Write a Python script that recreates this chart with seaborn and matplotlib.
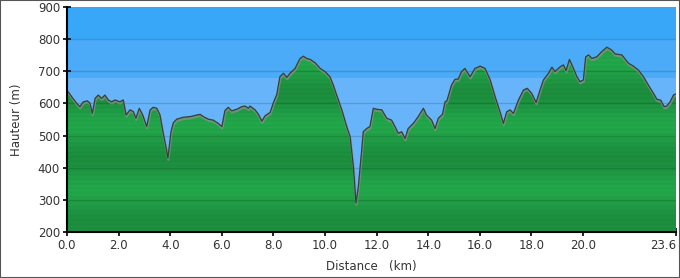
import numpy as np
import pandas as pd
import matplotlib
matplotlib.use("Agg")
import matplotlib.pyplot as plt
import seaborn as sns
from matplotlib import patheffects as pe
from matplotlib.patches import Polygon, Rectangle
from matplotlib.colors import to_rgb

# ---- data ----
distance_km = [0.00, 0.05, 0.18, 0.38, 0.50, 0.63, 0.79, 0.89, 0.98, 1.09, 1.21, 1.34, 1.47, 1.60,
               1.73, 1.86, 2.05, 2.18, 2.29, 2.44, 2.57, 2.67, 2.80, 2.93, 3.09, 3.22, 3.34, 3.48,
               3.60, 3.73, 3.86, 3.91, 4.03, 4.12, 4.25, 4.51, 4.77, 5.03, 5.16, 5.28, 5.48, 5.67,
               5.86, 6.00, 6.12, 6.25, 6.38, 6.58, 6.77, 6.90, 7.03, 7.09, 7.29, 7.42, 7.55, 7.68,
               7.87, 8.00, 8.13, 8.25, 8.39, 8.52, 8.64, 8.84, 9.03, 9.16, 9.29, 9.42, 9.61, 9.81,
               10.00, 10.19, 10.32, 10.45, 10.65, 10.84, 10.97, 11.10, 11.20, 11.29, 11.42, 11.48,
               11.61, 11.74, 11.87, 12.00, 12.20, 12.39, 12.58, 12.71, 12.84, 12.97, 13.10, 13.22,
               13.42, 13.61, 13.81, 13.93, 14.13, 14.26, 14.39, 14.55, 14.65, 14.72, 14.90, 15.03,
               15.16, 15.29, 15.42, 15.62, 15.81, 16.01, 16.20, 16.40, 16.59, 16.78, 16.91, 17.04,
               17.17, 17.30, 17.49, 17.69, 17.84, 18.01, 18.18, 18.33, 18.46, 18.66, 18.79, 18.91,
               19.11, 19.24, 19.34, 19.47, 19.60, 19.76, 19.88, 20.01, 20.10, 20.21, 20.34, 20.53,
               20.72, 20.92, 21.11, 21.24, 21.50, 21.76, 21.95, 22.14, 22.34, 22.53, 22.73, 22.86,
               23.01, 23.14, 23.24, 23.37, 23.50, 23.60]
elevation_m = [636, 636, 621, 600, 590, 605, 608, 601, 569, 616, 626, 616, 626, 611,
               605, 611, 605, 611, 564, 580, 575, 554, 585, 565, 528, 580, 588, 585,
               565, 507, 455, 430, 512, 540, 551, 557, 559, 564, 566, 559, 551, 548,
               538, 528, 578, 588, 577, 582, 590, 592, 585, 592, 580, 566, 545, 562,
               572, 603, 628, 683, 694, 681, 694, 709, 740, 747, 740, 737, 727, 709,
               699, 683, 657, 626, 580, 528, 497, 403, 290, 341, 455, 512,
               522, 528, 585, 582, 580, 554, 548, 528, 507, 512, 491, 522,
               538, 559, 585, 564, 548, 522, 554, 566, 605, 608, 657, 675,
               676, 699, 709, 683, 709, 716, 709, 673, 621, 574, 538, 574,
               580, 569, 610, 642, 647, 631, 603, 642, 673, 694, 713, 699,
               714, 720, 702, 737, 714, 683, 668, 673, 745, 751, 740, 745,
               761, 775, 766, 754, 751, 725, 716, 704, 683, 657, 631, 613,
               610, 590, 592, 605, 626, 630]
x_ticks = [0.0, 2.0, 4.0, 6.0, 8.0, 10.0, 12.0, 14.0, 16.0, 18.0, 20.0, 23.6]
x_tick_labels = ["0.0", "2.0", "4.0", "6.0", "8.0", "10.0", "12.0", "14.0", "16.0", "18.0", "20.0", "23.6"]
y_ticks = [200, 300, 400, 500, 600, 700, 800, 900]

df = pd.DataFrame({"Distance": distance_km, "Hauteur": elevation_m})

sns.set_style("white")
plt.rcParams["font.family"] = ["DejaVu Sans"]

fig = plt.figure(figsize=(6.8, 2.78), dpi=100)
ax = fig.add_axes([67 / 680, 46 / 278, 609 / 680, 225 / 278])

xmin, xmax, ymin, ymax = 0.0, 23.6, 200, 900

# sky bands
ax.axhspan(800, 900, color="#38a7f8", zorder=0, lw=0)
ax.axhspan(680, 800, color="#4babf8", zorder=0, lw=0)
ax.axhspan(200, 680, color="#68b4fa", zorder=0, lw=0)

# green banded fill clipped to the profile
h = np.linspace(ymin, ymax, 1401)
light = np.array(to_rgb("#23a84b"))
dark = np.array(to_rgb("#1b8a3c"))
d = 0.5 + 0.5 * np.cos(2 * np.pi * (h - 430) / 200.0)
d = 0.8 * d + 0.2 * (0.5 + 0.5 * np.cos(2 * np.pi * h / 14.0))
cols = light[None, :] * (1 - d[:, None]) + dark[None, :] * d[:, None]
img = np.repeat(cols[:, None, :], 2, axis=1)
im = ax.imshow(img, extent=[xmin, xmax, ymin, ymax], origin="lower", aspect="auto",
               zorder=1, interpolation="bilinear")
verts = [(xmin, ymin)] + list(zip(distance_km, elevation_m)) + [(xmax, ymin)]
poly = Polygon(verts, closed=True, facecolor="none", edgecolor="none", transform=ax.transData)
ax.add_patch(poly)
im.set_clip_path(poly)

# grid lines
for yv in y_ticks[1:-1]:
    ax.axhline(yv, color="black", alpha=0.15, lw=1.0, zorder=2)

# profile line with shadow
sns.lineplot(data=df, x="Distance", y="Hauteur", ax=ax, color="#34403a", lw=0.9, zorder=4,
             path_effects=[pe.SimpleLineShadow(offset=(0.3, -1.2), shadow_color="#909090",
                                               alpha=0.7, linewidth=1.6),
                           pe.Normal()])

ax.set_xlim(xmin, xmax)
ax.set_ylim(ymin, ymax)
ax.set_xticks(x_ticks)
ax.set_xticklabels(x_tick_labels)
ax.set_yticks(y_ticks)
last = ax.get_xticklabels()[-1]
last.set_horizontalalignment("right")

for s in ["top", "right"]:
    ax.spines[s].set_visible(False)
for s in ["left", "bottom"]:
    ax.spines[s].set_visible(True)
    ax.spines[s].set_color("black")
    ax.spines[s].set_linewidth(1.5)
    ax.spines[s].set_zorder(5)

ax.tick_params(axis="both", which="both", bottom=True, left=True, direction="inout",
               length=6, width=1.2, color="black", labelsize=8.5, labelcolor="#333333", pad=2)

ax.set_xlabel("Distance   (km)", fontsize=8.5, color="#333333", labelpad=6)
ax.set_ylabel("Hauteur (m)", fontsize=8.5, color="#333333", labelpad=11)

fig.patches.append(Rectangle((0, 0), 1, 1, transform=fig.transFigure, fill=False,
                             edgecolor="#555555", lw=1.5))

fig.savefig("out.png", dpi=100)
